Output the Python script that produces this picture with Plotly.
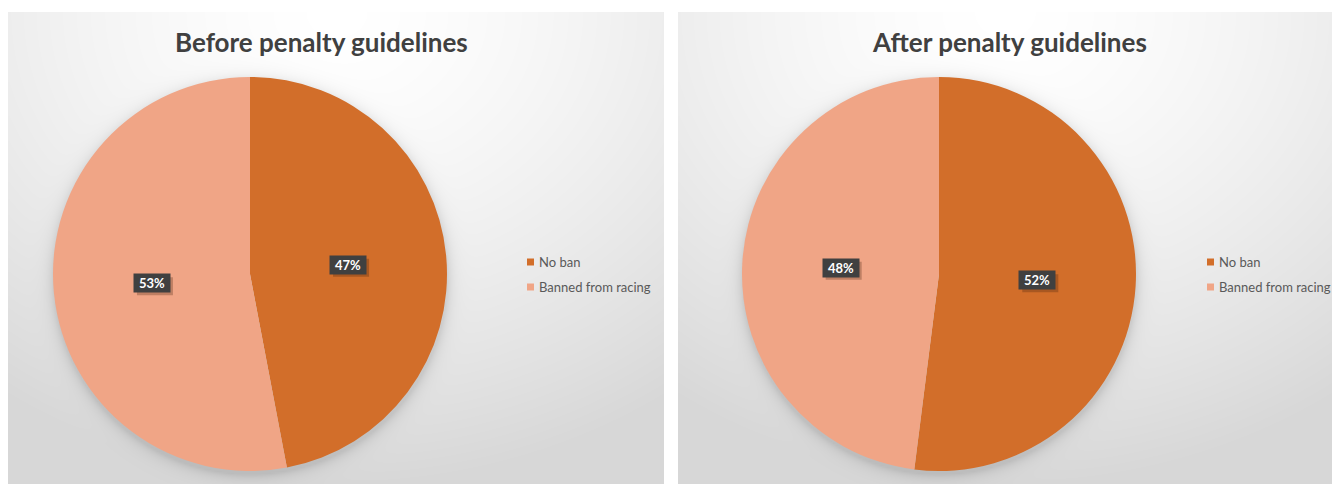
import numpy as np
import plotly.graph_objects as go

# ---- data ----
categories = ["No ban", "Banned from racing"]
before_values = [47, 53]
after_values = [52, 48]
titles = ["Before penalty guidelines", "After penalty guidelines"]

colors = ["#D26E2A", "#F0A586"]

# ---- page geometry (pixels) ----
W, H = 1332, 485
panels = [(8, 665), (678, 1332)]      # horizontal extent of each card
panel_top = 12
pie_centers = [(250, 274), (939, 274)]
pie_r = 197
title_pos = [(321, 42), (1010, 42)]
legend_x = [527, 1207]
legend_y0, legend_gap = 262, 25
label_box = (36, 18)                  # width, height of value-label boxes


def px_to_paper(x, y):
    return x / W, (H - y) / H


fig = go.Figure()

# ---- card backgrounds: soft radial gradient with a shadow around the pie ----
step = 2
for i, ((x0, x1), (cx, cy)) in enumerate(zip(panels, pie_centers)):
    pw, ph = x1 - x0, H - panel_top
    xs = np.arange(step / 2, pw, step)
    ys = np.arange(step / 2, ph, step)
    X, Y = np.meshgrid(xs, ys)
    gx = (X - pw / 2) / (pw * 0.86)
    gy = Y / ph
    t = np.clip(np.sqrt(gx ** 2 + gy ** 2), 0, 1)
    shade = 255 - 40 * t ** 1.5
    # pie drop shadow (slightly offset downward)
    d = np.sqrt((X + x0 - cx) ** 2 + (Y + panel_top - cy - 3) ** 2) - pie_r
    shade -= 28 * np.exp(-np.clip(d, 0, None) / 6.0)
    xa = "x" if i == 0 else "x2"
    ya = "y" if i == 0 else "y2"
    fig.add_trace(go.Heatmap(
        x=xs, y=ys, z=shade, zmin=0, zmax=255,
        colorscale=[[0, "rgb(0,0,0)"], [1, "rgb(255,255,255)"]],
        showscale=False, hoverinfo="skip", zsmooth="best",
        xaxis=xa, yaxis=ya,
    ))

# ---- pies ----
for i, (vals, (cx, cy)) in enumerate(zip([before_values, after_values], pie_centers)):
    fig.add_trace(go.Pie(
        labels=categories, values=vals,
        marker=dict(colors=colors, line=dict(width=0)),
        sort=False, direction="clockwise", rotation=0,
        textinfo="none", hoverinfo="label+percent",
        domain=dict(x=[(cx - pie_r) / W, (cx + pie_r) / W],
                    y=[(H - (cy + pie_r)) / H, (H - (cy - pie_r)) / H]),
        showlegend=False,
    ))

    # percentage labels placed at the middle of each slice
    total = sum(vals)
    cum = 0
    for v in vals:
        theta = 2 * np.pi * (cum + v / 2) / total
        lx = cx + 0.5 * pie_r * np.sin(theta)
        ly = cy - 0.5 * pie_r * np.cos(theta)
        bw, bh = label_box
        # soft shadow under the label box
        s0x, s0y = px_to_paper(lx - bw / 2 + 3, ly + bh / 2 + 3)
        s1x, s1y = px_to_paper(lx + bw / 2 + 3, ly - bh / 2 + 3)
        fig.add_shape(type="rect", xref="paper", yref="paper",
                      x0=s0x, x1=s1x, y0=s0y, y1=s1y,
                      fillcolor="rgba(60,30,10,0.28)", line=dict(width=0), layer="above")
        px, py = px_to_paper(lx, ly)
        txt = f"{round(100 * v / total)}%"
        fig.add_annotation(x=px, y=py, xref="paper", yref="paper",
                           xanchor="center", yanchor="middle",
                           width=bw, height=bh, align="center", valign="middle",
                           text=f"<b>{txt}</b>", showarrow=False,
                           font=dict(family="Lato", size=13, color="white"),
                           bgcolor="#404040", borderpad=0)
        cum += v

# ---- legends: small square swatch + category name ----
for lx in legend_x:
    for k, (name, col) in enumerate(zip(categories, colors)):
        ly = legend_y0 + k * legend_gap
        sx0, sy0 = px_to_paper(lx, ly - 3.5)
        sx1, sy1 = px_to_paper(lx + 7, ly + 3.5)
        fig.add_shape(type="rect", xref="paper", yref="paper",
                      x0=sx0, x1=sx1, y0=sy1, y1=sy0,
                      fillcolor=col, line=dict(width=0), layer="above")
        tx, ty = px_to_paper(lx + 10, ly)
        fig.add_annotation(x=tx, y=ty, xref="paper", yref="paper",
                           xanchor="left", yanchor="middle",
                           text=name, showarrow=False,
                           font=dict(family="Lato", size=13, color="#595959"))

# ---- titles ----
for (tx, ty), title in zip(title_pos, titles):
    px, py = px_to_paper(tx, ty)
    fig.add_annotation(x=px, y=py, xref="paper", yref="paper",
                       xanchor="center", yanchor="middle",
                       text=f"<b>{title}</b>", showarrow=False,
                       font=dict(family="Lato", size=26, color="#404040"))

# ---- axes hosting the backgrounds ----
axis_common = dict(showgrid=False, zeroline=False, showticklabels=False,
                   ticks="", showline=False, fixedrange=True)
(p1x0, p1x1), (p2x0, p2x1) = panels
ydom = [0, (H - panel_top) / H]
fig.update_layout(
    xaxis=dict(domain=[p1x0 / W, p1x1 / W], range=[0, p1x1 - p1x0], **axis_common),
    yaxis=dict(domain=ydom, range=[H - panel_top, 0], **axis_common),
    xaxis2=dict(domain=[p2x0 / W, p2x1 / W], range=[0, p2x1 - p2x0], anchor="y2", **axis_common),
    yaxis2=dict(domain=ydom, range=[H - panel_top, 0], anchor="x2", **axis_common),
    showlegend=False,
    width=W, height=H,
    margin=dict(l=0, r=0, t=0, b=0),
    paper_bgcolor="white", plot_bgcolor="white",
)

fig.write_html("out.html")
